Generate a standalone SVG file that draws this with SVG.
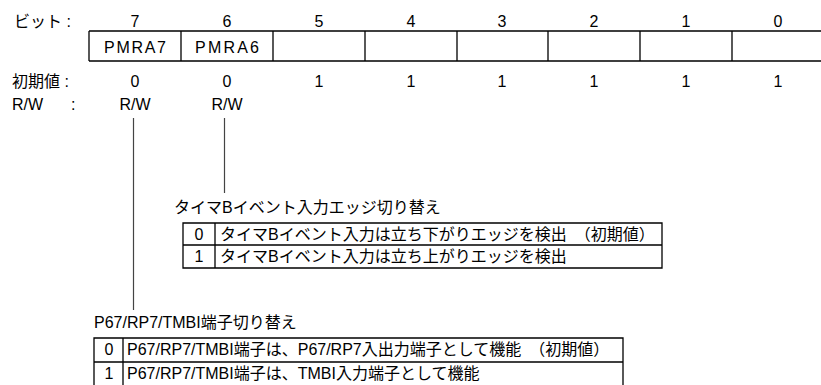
<svg xmlns="http://www.w3.org/2000/svg" width="821" height="385" viewBox="0 0 821 385">
<style>
text{font-family:"Liberation Sans","Noto Sans CJK JP",sans-serif;font-size:16px;fill:#000}
.c{text-anchor:middle}
.ln{stroke:#000;stroke-width:1.3;fill:none}
.conn{stroke:#444;stroke-width:1.2;fill:none}
</style>
<rect width="821" height="385" fill="#fff"/>
<g id="register">
<text x="14" y="27">ビット :</text>
<text class="c" x="135" y="27">7</text>
<text class="c" x="227" y="27">6</text>
<text class="c" x="319" y="27">5</text>
<text class="c" x="411" y="27">4</text>
<text class="c" x="502" y="27">3</text>
<text class="c" x="594" y="27">2</text>
<text class="c" x="686" y="27">1</text>
<text class="c" x="778" y="27">0</text>
<path class="ln" d="M89,31H821M89,61H821M89,31V61M181,31V61M273,31V61M365,31V61M457,31V61M548,31V61M640,31V61M732,31V61"/>
<text class="c" x="135" y="53" textLength="62">PMRA7</text>
<text class="c" x="227" y="53" textLength="64">PMRA6</text>
<text x="12" y="87">初期値 :</text>
<text class="c" x="135" y="87">0</text>
<text class="c" x="227" y="87">0</text>
<text class="c" x="319" y="87">1</text>
<text class="c" x="411" y="87">1</text>
<text class="c" x="502" y="87">1</text>
<text class="c" x="594" y="87">1</text>
<text class="c" x="686" y="87">1</text>
<text class="c" x="778" y="87">1</text>
<text x="12" y="110">R/W</text>
<text x="71" y="110">:</text>
<text class="c" x="135" y="110">R/W</text>
<text class="c" x="227" y="110">R/W</text>
</g>
<g id="connectors">
<line class="conn" x1="133.5" y1="118" x2="133.5" y2="310"/>
<line class="conn" x1="224.5" y1="118" x2="224.5" y2="193"/>
</g>
<g id="pmra6">
<text x="174" y="213">タイマBイベント入力エッジ切り替え</text>
<path class="ln" d="M183,223H662V268H183ZM183,245H662M215,223V268"/>
<text class="c" x="199" y="240">0</text>
<text x="220" y="240">タイマBイベント入力は立ち下がりエッジを検出　（初期値）</text>
<text class="c" x="199" y="262">1</text>
<text x="220" y="262">タイマBイベント入力は立ち上がりエッジを検出</text>
</g>
<g id="pmra7">
<text x="94" y="328">P67/RP7/TMBI端子切り替え</text>
<path class="ln" d="M94,338H623V362H94ZM94,338V385M123,338V385M623,362V385"/>
<text class="c" x="109" y="355">0</text>
<text x="127" y="355">P67/RP7/TMBI端子は、P67/RP7入出力端子として機能　（初期値）</text>
<text class="c" x="109" y="379">1</text>
<text x="127" y="379">P67/RP7/TMBI端子は、TMBI入力端子として機能</text>
</g>
</svg>
